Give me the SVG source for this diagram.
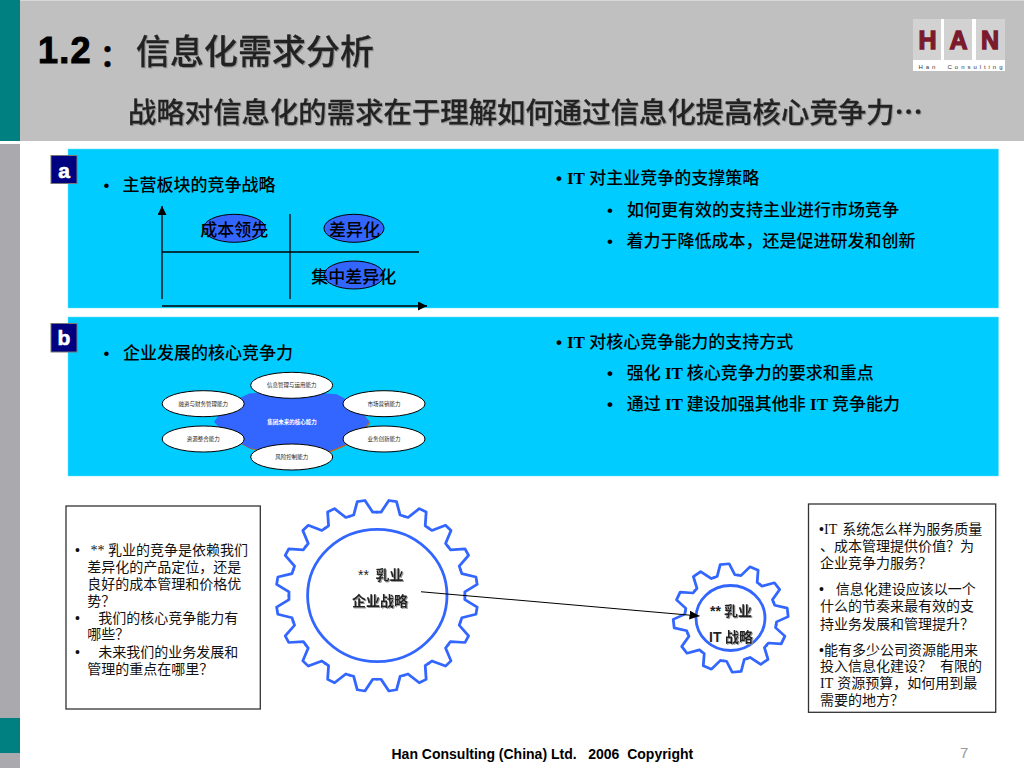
<svg xmlns="http://www.w3.org/2000/svg" width="1024" height="768" viewBox="0 0 1024 768">
<style>
text{font-family:"Liberation Serif","Noto Sans CJK SC",serif;fill:#000}
.sans{font-family:"Liberation Sans","Noto Sans CJK SC",sans-serif}
.panel{fill:#00CCFF;stroke:#66E0FF;stroke-width:.5}
.badge{fill:#000080;stroke:#777;stroke-width:1}
.blet{font-family:"Liberation Sans",sans-serif;font-weight:700;font-size:21px;fill:#fff;stroke:#fff;stroke-width:.6;text-anchor:middle}
.p{font-size:17px;font-weight:500}
.pb{font-size:17px;font-weight:700}
.oval{fill:#3366FF;stroke:#000;stroke-width:1}
.ax{stroke:#000;stroke-width:1.3;fill:none}
.cap{font-size:17px;font-weight:500;text-anchor:middle}
.wh{fill:#fff;stroke:#000;stroke-width:1}
.tiny{font-size:5.5px;text-anchor:middle;fill:#222}
.box{fill:#fff;stroke:#333;stroke-width:1.3}
.b{font-size:14px;fill:#111}
.gear{fill:none;stroke:#3366FF;stroke-width:2.8;stroke-linejoin:round;stroke-linecap:round}
.ring{fill:#fff;stroke:#3366FF;stroke-width:2.8}
.gl{font-size:14px;font-weight:700;fill:#222}
.logoblk{fill:#D2D2D2}
.logol{font-family:"Liberation Sans",sans-serif;font-weight:700;font-size:25px;fill:#7B1A2C;text-anchor:middle;stroke:#7B1A2C;stroke-width:1.3}
.head{fill:#222;stroke:#222;stroke-width:.35;font-weight:500}
</style>
<defs>
<marker id="arr" markerUnits="userSpaceOnUse" markerWidth="9" markerHeight="9" refX="9" refY="4.5" orient="auto"><path d="M0 0L9 4.5L0 9Z" fill="#000"/></marker>
<marker id="arr2" markerUnits="userSpaceOnUse" markerWidth="10" markerHeight="9" refX="10" refY="4.5" orient="auto"><path d="M0 0L10 4.5L0 9Z" fill="#000"/></marker>
<filter id="sh" x="-5%" y="-10%" width="110%" height="120%"><feDropShadow dx="1" dy="1" stdDeviation="0.3" flood-color="#999"/></filter>
<polyline id="bt" points="-13.77,-86.9 -9.66,-87.47 -3.88,-100.9 3.88,-100.9 9.66,-87.47 13.77,-86.9"/>
<polyline id="st" points="-11.9,-44.43 -8.9,-45.13 -4.5,-57.3 4.5,-57.3 8.9,-45.13 11.9,-44.43"/>
<polygon id="blob" points="250,393.3 291.7,391 336.7,394.3 356.7,405 369.3,421.7 356.7,440 330,451 291.7,455 250,448.3 228.3,436.7 214,421.7 228.3,403.3"/>
</defs>

<g id="background">
<rect x="0" y="0" width="1024" height="141" fill="#C0C0C0"/>
<rect x="0" y="0" width="1024" height="1" fill="#D8D8D8"/>
<rect x="0" y="0" width="20" height="141" fill="#008080"/>
<rect x="0" y="144" width="20" height="624" fill="#A9A9AE"/>
<rect x="0" y="718" width="20" height="35" fill="#008080"/>
</g>

<g id="title">
<text class="sans" x="38" y="62.5" font-size="36" font-weight="700" style="stroke:#000;stroke-width:1" letter-spacing="1.3">1.2</text>
<text class="sans" x="100" y="66" font-size="30" font-weight="700" style="stroke:#000;stroke-width:.5">：</text>
<text class="sans head" x="136" y="63.5" font-size="34" filter="url(#sh)">信息化需求分析</text>
<text class="sans head" x="128" y="122.5" font-size="28.4" filter="url(#sh)">战略对信息化的需求在于理解如何通过信息化提高核心竞争力<tspan font-family="Noto Sans CJK SC" font-weight="700">…</tspan></text>
</g>

<g id="logo">
<rect x="913" y="19" width="92" height="52" fill="#fff"/>
<rect class="logoblk" x="913" y="19" width="28" height="41"/>
<rect class="logoblk" x="944" y="19" width="28" height="41"/>
<rect class="logoblk" x="976" y="19" width="29" height="41"/>
<text class="logol" x="927.5" y="49">H</text>
<text class="logol" x="958.5" y="49">A</text>
<text class="logol" x="990" y="49">N</text>
<text class="sans" x="918.5" y="68.5" font-size="6" letter-spacing="2.95" style="fill:#333" xml:space="preserve">Han  Consulting</text>
</g>

<g id="panel-a">
<rect class="panel" x="68" y="149" width="930.5" height="159"/>
<rect class="badge" x="51" y="155.5" width="26" height="28"/>
<text class="blet" x="64" y="178">a</text>
<text class="p" x="103.5" y="190.5"><tspan class="sans">•</tspan><tspan x="122.5">主营板块的竞争战略</tspan></text>
<text class="pb" x="556" y="184"><tspan class="sans">•</tspan><tspan x="567">IT </tspan><tspan x="589.3" font-weight="500">对主业竞争的支撑策略</tspan></text>
<text class="p" x="607" y="215.5"><tspan class="sans">•</tspan><tspan x="627">如何更有效的支持主业进行市场竞争</tspan></text>
<text class="p" x="607" y="246.5"><tspan class="sans">•</tspan><tspan x="626.5">着力于降低成本，还是促进研发和创新</tspan></text>
</g>

<g id="matrix">
<line class="ax" x1="162" y1="299" x2="162" y2="206" marker-end="url(#arr)"/>
<line class="ax" x1="290" y1="214" x2="290" y2="299"/>
<line class="ax" x1="162" y1="252" x2="419" y2="252"/>
<line class="ax" x1="162" y1="306" x2="427" y2="306" marker-end="url(#arr)"/>
<g id="cost"><ellipse class="oval" cx="234.3" cy="228.3" rx="31" ry="14"/><text class="cap" x="234.3" y="235.5">成本领先</text></g>
<g id="diff"><ellipse class="oval" cx="354" cy="228.3" rx="30" ry="14"/><text class="cap" x="354.5" y="235.5">差异化</text></g>
<g id="focus"><ellipse class="oval" cx="354" cy="275" rx="30" ry="14"/><text class="cap" x="353.7" y="282.5">集中差异化</text></g>
</g>

<g id="panel-b">
<rect class="panel" x="68" y="317" width="930.5" height="159"/>
<rect class="badge" x="51" y="323.5" width="26" height="28.5"/>
<text class="blet" x="64" y="345">b</text>
<text class="p" x="103.5" y="358.5"><tspan class="sans">•</tspan><tspan x="123">企业发展的核心竞争力</tspan></text>
<text class="pb" x="556" y="348"><tspan class="sans">•</tspan><tspan x="567">IT </tspan><tspan x="589.3" font-weight="500">对核心竞争能力的支持方式</tspan></text>
<text class="pb" x="607" y="379"><tspan class="sans">•</tspan><tspan x="626.7" font-weight="500">强化 </tspan><tspan>IT </tspan><tspan font-weight="500">核心竞争力的要求和重点</tspan></text>
<text class="pb" x="607" y="410"><tspan class="sans">•</tspan><tspan x="626.7" font-weight="500">通过 </tspan><tspan>IT </tspan><tspan font-weight="500">建设加强其他非 </tspan><tspan>IT </tspan><tspan font-weight="500">竞争能力</tspan></text>
</g>

<g id="core">
<use href="#blob" transform="translate(1 1)" fill="#CC6600"/>
<use href="#blob" fill="#3366FF"/>
<text class="tiny" x="292" y="423.7" font-weight="700" style="fill:#fff">集团未来的核心能力</text>
<g id="c1"><ellipse class="wh" cx="291.7" cy="385.3" rx="41" ry="13"/><text class="tiny" x="291.7" y="387.3">信息管理与运用能力</text></g>
<g id="c2"><ellipse class="wh" cx="203.2" cy="403.7" rx="41" ry="13"/><text class="tiny" x="203.2" y="405.7">融资与财务管理能力</text></g>
<g id="c3"><ellipse class="wh" cx="384" cy="403.7" rx="41" ry="13"/><text class="tiny" x="384" y="405.7">市场营销能力</text></g>
<g id="c4"><ellipse class="wh" cx="203.2" cy="439" rx="41" ry="13"/><text class="tiny" x="203.2" y="441">资源整合能力</text></g>
<g id="c5"><ellipse class="wh" cx="384" cy="439" rx="41" ry="13"/><text class="tiny" x="384" y="441">业务创新能力</text></g>
<g id="c6"><ellipse class="wh" cx="291.7" cy="457" rx="41" ry="13"/><text class="tiny" x="291.7" y="459">风险控制能力</text></g>
</g>

<g id="box-left">
<rect class="box" x="66" y="506" width="194.3" height="203"/>
<text class="b" x="75" y="554.5"><tspan class="sans">•</tspan><tspan x="90.5">** </tspan><tspan x="108">乳业的竞争是依赖我们</tspan></text>
<text class="b" x="87.3" y="572">差异化的产品定位，还是</text>
<text class="b" x="87.3" y="589.3">良好的成本管理和价格优</text>
<text class="b" x="87.3" y="606.3">势？</text>
<text class="b" x="75" y="622.6"><tspan class="sans">•</tspan><tspan x="98.3">我们的核心竞争能力有</tspan></text>
<text class="b" x="87.3" y="639.3">哪些？</text>
<text class="b" x="75" y="657"><tspan class="sans">•</tspan><tspan x="98.3">未来我们的业务发展和</tspan></text>
<text class="b" x="87.3" y="674.3">管理的重点在哪里？</text>
</g>

<g id="gear-big">
<g class="gear" transform="translate(376.9 595.7) scale(1 .95)">
<use href="#bt" transform="rotate(9)"/><use href="#bt" transform="rotate(27)"/><use href="#bt" transform="rotate(45)"/><use href="#bt" transform="rotate(63)"/><use href="#bt" transform="rotate(81)"/><use href="#bt" transform="rotate(99)"/><use href="#bt" transform="rotate(117)"/><use href="#bt" transform="rotate(135)"/><use href="#bt" transform="rotate(153)"/><use href="#bt" transform="rotate(171)"/><use href="#bt" transform="rotate(189)"/><use href="#bt" transform="rotate(207)"/><use href="#bt" transform="rotate(225)"/><use href="#bt" transform="rotate(243)"/><use href="#bt" transform="rotate(261)"/><use href="#bt" transform="rotate(279)"/><use href="#bt" transform="rotate(297)"/><use href="#bt" transform="rotate(315)"/><use href="#bt" transform="rotate(333)"/><use href="#bt" transform="rotate(351)"/>
</g>
<ellipse class="ring" cx="377.3" cy="595.5" rx="69.7" ry="66.2"/>
<text class="gl sans" x="358" y="580"><tspan font-weight="400">**</tspan><tspan x="375.5" filter="url(#sh)">乳业</tspan></text>
<text class="gl sans" x="352" y="606" filter="url(#sh)">企业战略</text>
</g>

<g id="gear-small">
<g class="gear" transform="translate(730.7 618) scale(1 .945)">
<use href="#st" transform="rotate(-6)"/><use href="#st" transform="rotate(24)"/><use href="#st" transform="rotate(54)"/><use href="#st" transform="rotate(84)"/><use href="#st" transform="rotate(114)"/><use href="#st" transform="rotate(144)"/><use href="#st" transform="rotate(174)"/><use href="#st" transform="rotate(204)"/><use href="#st" transform="rotate(234)"/><use href="#st" transform="rotate(264)"/><use href="#st" transform="rotate(294)"/><use href="#st" transform="rotate(324)"/>
</g>
<ellipse class="ring" cx="730.5" cy="618" rx="34.5" ry="32.5"/>
<text class="gl sans" x="710" y="615.5"><tspan font-weight="700">**</tspan><tspan x="724" filter="url(#sh)">乳业</tspan></text>
<text class="gl sans" x="709" y="641.5">IT<tspan x="725" filter="url(#sh)">战略</tspan></text>
</g>

<g id="connectors">
<line x1="421" y1="591.7" x2="699.5" y2="616" stroke="#000" stroke-width="1.1" marker-end="url(#arr2)"/>
</g>

<g id="box-right">
<rect class="box" x="808.5" y="504" width="187.2" height="208.3"/>
<text class="b" x="819" y="534.3"><tspan class="sans">•</tspan><tspan x="824">IT </tspan><tspan x="842.3">系统怎么样为服务质量</tspan></text>
<text class="b" x="820" y="551">、成本管理提供价值？为</text>
<text class="b" x="820" y="568">企业竞争力服务？</text>
<text class="b" x="819" y="594.3"><tspan class="sans">•</tspan><tspan x="835.7">信息化建设应该以一个</tspan></text>
<text class="b" x="820" y="611.3">什么的节奏来最有效的支</text>
<text class="b" x="820" y="628.6">持业务发展和管理提升？</text>
<text class="b" x="819" y="654.6"><tspan class="sans">•</tspan><tspan x="824">能有多少公司资源能用来</tspan></text>
<text class="b" x="820" y="671.3">投入信息化建设？<tspan x="940">有限的</tspan></text>
<text class="b" x="820" y="688">IT <tspan x="837.3">资源预算，如何用到最</tspan></text>
<text class="b" x="820" y="705.3">需要的地方？</text>
</g>

<g id="footer">
<text class="sans" x="391.5" y="759" font-size="14" font-weight="700" xml:space="preserve">Han Consulting (China) Ltd.   2006  Copyright</text>
<text class="sans" x="960" y="758" font-size="15" style="fill:#999">7</text>
</g>
</svg>
